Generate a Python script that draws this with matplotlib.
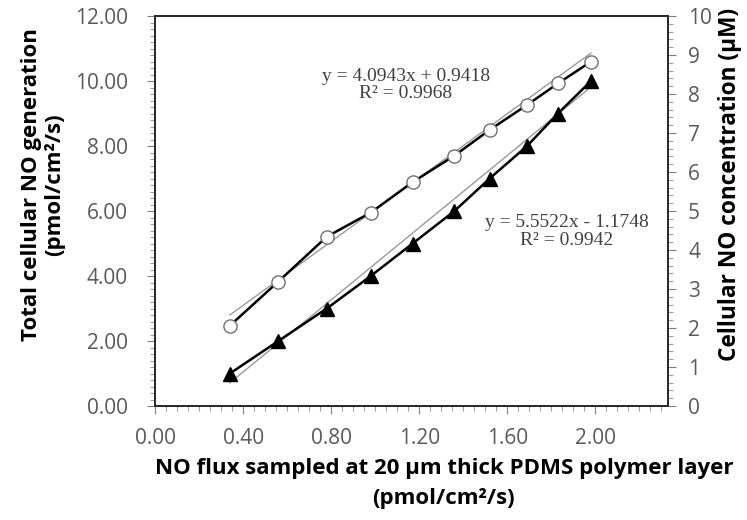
import matplotlib
matplotlib.use("Agg")
import numpy as np
import matplotlib.pyplot as plt
from matplotlib.ticker import MultipleLocator, FormatStrFormatter

# NO flux through the 20 um PDMS layer (pmol/cm2/s)
flux = [0.34, 0.56, 0.78, 0.98, 1.17, 1.36, 1.52, 1.69, 1.83, 1.98]
# total cellular NO generation (pmol/cm2/s), left axis
generation = [1, 2, 3, 4, 5, 6, 7, 8, 9, 10]
# cellular NO concentration (uM), right axis
concentration = [2.06, 3.19, 4.34, 4.96, 5.74, 6.42, 7.08, 7.72, 8.27, 8.83]

# linear trendlines (slope, intercept)
gen_fit = (5.5522, -1.1748)
conc_fit = (4.0943, 0.9418)
gen_label = "y = 5.5522x - 1.1748\nR² = 0.9942"
conc_label = "y = 4.0943x + 0.9418\nR² = 0.9968"

sans = "Open Sans"
tick_col = "#595959"
frame_col = "#2b2b2b"

fig = plt.figure(figsize=(7.47, 5.2), dpi=100)
ax = fig.add_axes([0.2075, 0.2192, 0.6867, 0.75])
ax2 = ax.twinx()

x = np.array(flux)
xfit = np.array([x.min(), x.max()])

ax.plot(xfit, gen_fit[0] * xfit + gen_fit[1], color="#9a9a9a", lw=1.0, zorder=2)
ax.plot(x, generation, color="black", lw=1.8, marker="^", ms=9.5,
        mfc="black", mec="black", zorder=3)

ax2.plot(xfit, conc_fit[0] * xfit + conc_fit[1], color="#9a9a9a", lw=1.0, zorder=2)
ax2.plot(x, concentration, color="black", lw=1.8, marker="o", ms=9.5,
         mfc="white", mec="#707070", mew=1.0, zorder=3)

ax.set_xlim(0, 2.33)
ax.set_ylim(0, 12)
ax2.set_ylim(0, 10)

ax.xaxis.set_major_locator(MultipleLocator(0.4))
ax.xaxis.set_minor_locator(MultipleLocator(0.05))
ax.xaxis.set_major_formatter(FormatStrFormatter("%.2f"))
ax.yaxis.set_major_locator(MultipleLocator(2))
ax.yaxis.set_minor_locator(MultipleLocator(0.2))
ax.yaxis.set_major_formatter(FormatStrFormatter("%.2f"))
ax2.yaxis.set_major_locator(MultipleLocator(1))
ax2.yaxis.set_minor_locator(MultipleLocator(0.2))

for a in (ax, ax2):
    for s in a.spines.values():
        s.set_color(frame_col)
        s.set_linewidth(1.4)
    a.tick_params(which="major", length=5.5, width=0.8, color="#7f7f7f",
                  labelsize=15, labelcolor=tick_col, direction="out")
    a.tick_params(which="minor", length=3.5, width=0.8, color="#9f9f9f",
                  direction="out")
    for lab in a.get_xticklabels() + a.get_yticklabels():
        lab.set_family(sans)

ax.tick_params(axis="y", which="major", pad=14)
ax.tick_params(axis="x", which="major", pad=10.5)
ax2.tick_params(axis="y", which="major", pad=9)

ax.set_xlabel("NO flux sampled at 20 µm thick PDMS polymer layer\n(pmol/cm²/s)",
              fontsize=16, fontweight="bold", family=sans,
              linespacing=1.55)
ax.xaxis.set_label_coords(0.563, -0.134, transform=ax.transAxes)
ax.xaxis.label.set_va("top")

ax.set_ylabel("Total cellular NO generation\n(pmol/cm²/s)",
              fontsize=16, fontweight="bold", family=sans,
              linespacing=1.15)
ax.yaxis.set_label_coords(-0.175, 0.567, transform=ax.transAxes)

ax2.set_ylabel("Cellular NO concentration (µM)",
               fontsize=16.3, fontweight="bold", family=sans)
ax2.yaxis.set_label_coords(1.097, 0.567, transform=ax.transAxes)

ax.text(1.14, 9.88, conc_label, ha="center", va="center", fontsize=14,
        family="Liberation Serif", color="#404040", linespacing=1.05, zorder=5)
ax.text(1.87, 5.36, gen_label, ha="center", va="center", fontsize=14,
        family="Liberation Serif", color="#404040", linespacing=1.1, zorder=5)

fig.savefig("out.png", dpi=100)
